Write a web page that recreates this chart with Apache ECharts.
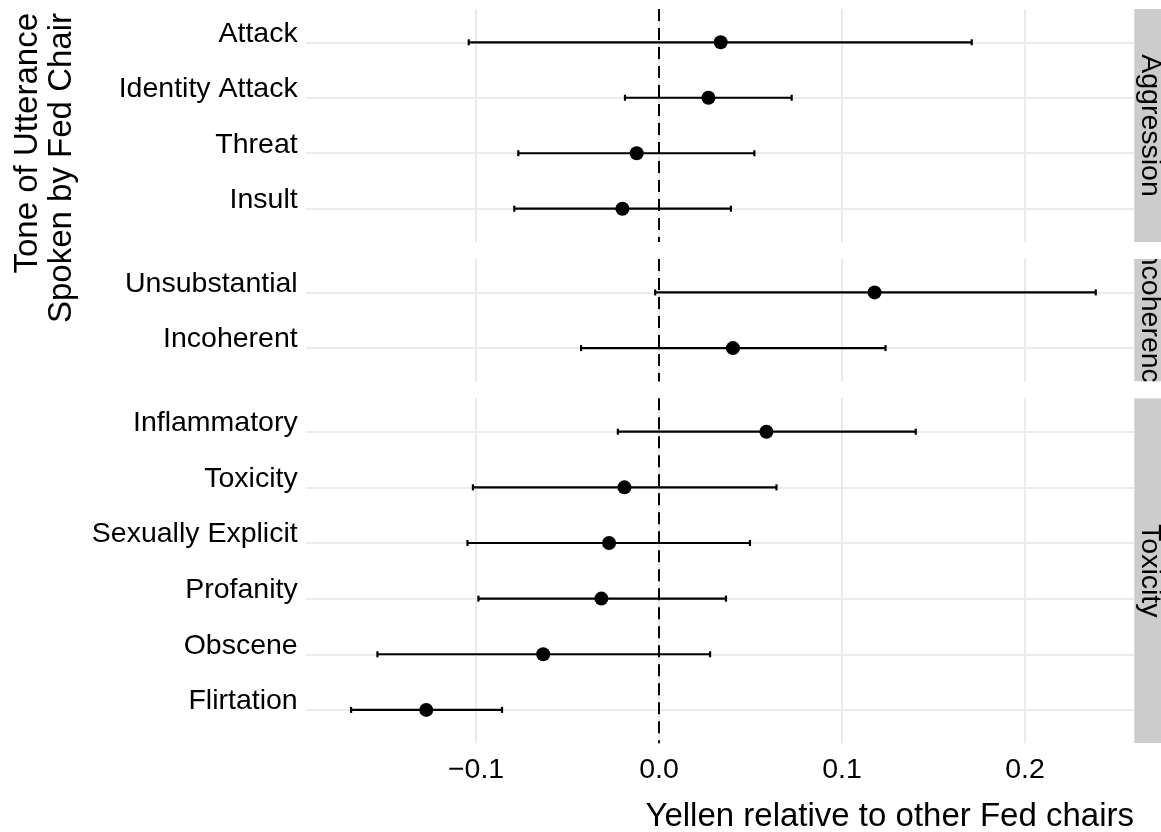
<!DOCTYPE html>
<html>
<head>
<meta charset="utf-8">
<script src="https://cdn.jsdelivr.net/npm/echarts@6/dist/echarts.min.js"></script>
<style>
  html, body { margin: 0; padding: 0; background: #fff; }
  #chart { width: 1161px; height: 832px; }
</style>
</head>
<body>
<div id="chart"></div>
<script>
// ---------- data ----------
const facetNames = ['Aggression', 'Incoherence', 'Toxicity'];

const aggLabels = ['Attack', 'Identity Attack', 'Threat', 'Insult'];
const aggEst    = [0.0337, 0.0270, -0.0122, -0.0200];
const aggLo     = [-0.1040, -0.0186, -0.0769, -0.0791];
const aggHi     = [0.1709, 0.0725, 0.0521, 0.0393];

const incLabels = ['Unsubstantial', 'Incoherent'];
const incEst    = [0.1178, 0.0404];
const incLo     = [-0.0021, -0.0426];
const incHi     = [0.2387, 0.1238];

const toxLabels = ['Inflammatory', 'Toxicity', 'Sexually Explicit', 'Profanity', 'Obscene', 'Flirtation'];
const toxEst    = [0.0587, -0.0189, -0.0273, -0.0315, -0.0633, -0.1272];
const toxLo     = [-0.0225, -0.1017, -0.1047, -0.0987, -0.1539, -0.1683];
const toxHi     = [0.1403, 0.0642, 0.0497, 0.0366, 0.0279, -0.0858];

const xTickValues = [-0.1, 0, 0.1, 0.2];
const xTickLabels = ['\u22120.1', '0.0', '0.1', '0.2'];
const refLineValue = 0;

const xTitle = 'Yellen relative to other Fed chairs';
const yTitle = 'Tone of Utterance\nSpoken by Fed Chair';

// ---------- layout ----------
const FONT = 'Liberation Sans, Arial, Helvetica, sans-serif';
const TEXT = '#000000';
const GRIDC = '#EBEBEB';
const panelLeft = 305.7, panelWidth = 828.3;
const xMin = -0.1931, xMax = 0.2596;
const panels = [
  { labels: aggLabels, est: aggEst, lo: aggLo, hi: aggHi, top: 9,     height: 233 },
  { labels: incLabels, est: incEst, lo: incLo, hi: incHi, top: 259,   height: 122.5 },
  { labels: toxLabels, est: toxEst, lo: toxLo, hi: toxHi, top: 398.3, height: 345 }
];

const grids = [], xAxes = [], yAxes = [], series = [];
const stripGrids = [], stripX = [], stripY = [], stripSeries = [];

panels.forEach((p, i) => {
  const n = p.labels.length;
  const idx = p.labels.map((_, k) => k + 1);
  const isLast = i === panels.length - 1;
  grids.push({ left: panelLeft, top: p.top, width: panelWidth, height: p.height,
               containLabel: false, outerBoundsMode: 'none' });
  xAxes.push({
    gridIndex: i, type: 'value', min: xMin, max: xMax,
    axisLine: { show: false },
    axisTick: { show: false, customValues: xTickValues },
    axisLabel: {
      show: isLast, customValues: xTickValues, margin: 13,
      fontSize: 28.5, lineHeight: 28, fontFamily: FONT, color: TEXT,
      formatter: v => { const k = xTickValues.findIndex(t => Math.abs(t - v) < 1e-9); return k >= 0 ? xTickLabels[k] : ''; }
    },
    splitLine: { show: true, lineStyle: { color: GRIDC, width: 2 } }
  });
  yAxes.push({
    gridIndex: i, type: 'value', inverse: true, min: 0.4, max: n + 0.6,
    axisLine: { show: false },
    axisTick: { show: false, customValues: idx },
    axisLabel: {
      customValues: idx, margin: 8, fontSize: 28.5, fontFamily: FONT, color: TEXT,
      verticalAlign: 'bottom', lineHeight: 17,
      formatter: v => p.labels[Math.round(v) - 1] || ''
    },
    splitLine: { show: true, lineStyle: { color: GRIDC, width: 2 } }
  });
  // error bars
  series.push({
    type: 'custom', xAxisIndex: i, yAxisIndex: i, z: 3, silent: true,
    data: p.labels.map((_, k) => [p.lo[k], p.hi[k], k + 1]),
    encode: { x: [0, 1], y: 2 },
    renderItem: (params, api) => {
      const a = api.coord([api.value(0), api.value(2)]);
      const b = api.coord([api.value(1), api.value(2)]);
      const cap = 3;
      const st = { stroke: '#000', lineWidth: 2.2 };
      return { type: 'group', children: [
        { type: 'line', shape: { x1: a[0], y1: a[1], x2: b[0], y2: b[1] }, style: st },
        { type: 'line', shape: { x1: a[0], y1: a[1] - cap, x2: a[0], y2: a[1] + cap }, style: st },
        { type: 'line', shape: { x1: b[0], y1: b[1] - cap, x2: b[0], y2: b[1] + cap }, style: st }
      ]};
    }
  });
  // points + reference line
  series.push({
    type: 'scatter', xAxisIndex: i, yAxisIndex: i, z: 4, silent: true,
    symbol: 'circle', symbolSize: 14, itemStyle: { color: '#000', opacity: 1 },
    data: p.labels.map((_, k) => [p.est[k], k + 1]),
    markLine: {
      silent: true, symbol: 'none', animation: false, z: 2,
      label: { show: false },
      lineStyle: { color: '#000', width: 2, type: [12, 7], opacity: 1 },
      data: [{ xAxis: refLineValue }]
    }
  });
  // strip (grid index offset by number of panels)
  const gi = panels.length + i;
  stripGrids.push({ left: 1134.3, top: p.top, width: 40, height: p.height, containLabel: false, outerBoundsMode: 'none' });
  stripX.push({ gridIndex: gi, type: 'value', min: 0, max: 1, show: false });
  stripY.push({ gridIndex: gi, type: 'value', min: 0, max: 1, show: false });
  stripSeries.push({
    type: 'custom', xAxisIndex: gi, yAxisIndex: gi, clip: true, silent: true,
    data: [[0.5, 0.5]],
    renderItem: (params, api) => {
      const cs = params.coordSys;
      return { type: 'group', children: [
        { type: 'rect', shape: { x: cs.x, y: cs.y, width: cs.width, height: cs.height }, style: { fill: '#CCCCCC' } },
        { type: 'text', x: 1150, y: cs.y + cs.height / 2, rotation: -Math.PI / 2,
          style: { text: facetNames[i], fill: TEXT, font: '28.5px ' + FONT,
                   textAlign: 'center', align: 'center', textVerticalAlign: 'middle', verticalAlign: 'middle' } }
      ]};
    }
  });
});

const chart = echarts.init(document.getElementById('chart'), null, { renderer: 'canvas' });
chart.setOption({
  animation: false,
  backgroundColor: '#ffffff',
  grid: grids.concat(stripGrids),
  xAxis: xAxes.concat(stripX),
  yAxis: yAxes.concat(stripY),
  series: series.concat(stripSeries),
  graphic: [
    { type: 'text', x: panelLeft + panelWidth, y: 817,
      style: { text: xTitle, fill: TEXT, font: '33px ' + FONT,
               textAlign: 'right', align: 'right', textVerticalAlign: 'middle', verticalAlign: 'middle' } },
    { type: 'text', x: 45, y: 13, rotation: Math.PI / 2,
      style: { text: yTitle, fill: TEXT, font: '33px ' + FONT, lineHeight: 34,
               textAlign: 'right', align: 'right', textVerticalAlign: 'middle', verticalAlign: 'middle' } }
  ]
});
</script>
</body>
</html>
